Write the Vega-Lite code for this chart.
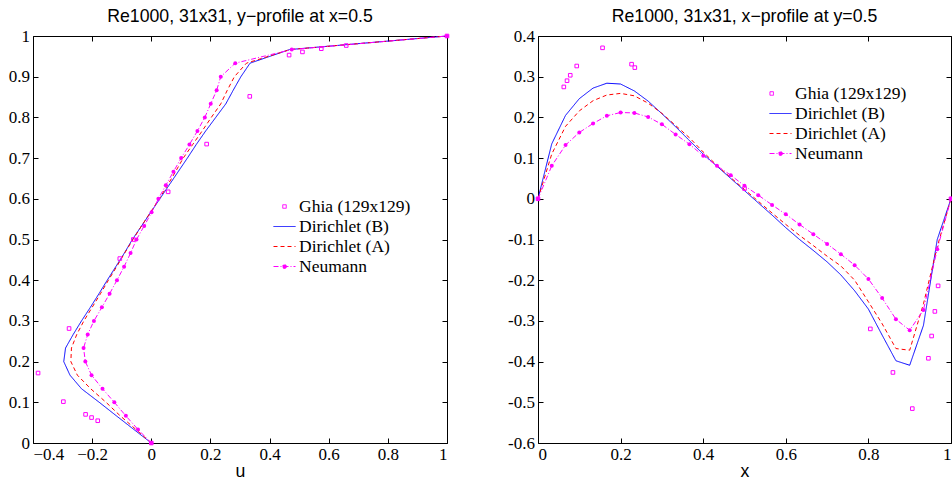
{
  "$schema": "https://vega.github.io/schema/vega-lite/v6.json",
  "background": "white",
  "padding": {"left": 7, "top": 7, "right": 0, "bottom": 0},
  "autosize": {"type": "pad"},
  "spacing": 91,
  "bounds": "flush",
  "config": {
    "view": {"stroke": "black", "strokeWidth": 1},
    "axis": {"domain": false, "grid": false, "tickColor": "black", "tickSize": -5, "tickWidth": 1, "labelPadding": 8.5, "labelFont": "Liberation Serif", "labelFontSize": 17, "labelColor": "black", "titleFont": "Liberation Sans", "titleFontSize": 17.7, "titleFontWeight": "normal", "titleColor": "black", "titlePadding": 0},
    "title": {"font": "Liberation Sans", "fontSize": 17.7, "fontWeight": "normal", "color": "black", "offset": 1}
  },
  "datasets": {
    "left": [
      {"s":"Dirichlet (B)","y":0,"u":0},{"s":"Dirichlet (B)","y":0.0333,"u":-0.059},{"s":"Dirichlet (B)","y":0.0667,"u":-0.118},{"s":"Dirichlet (B)","y":0.1,"u":-0.176},{"s":"Dirichlet (B)","y":0.1333,"u":-0.236},{"s":"Dirichlet (B)","y":0.1667,"u":-0.275},{"s":"Dirichlet (B)","y":0.2,"u":-0.296},{"s":"Dirichlet (B)","y":0.2333,"u":-0.29},{"s":"Dirichlet (B)","y":0.2667,"u":-0.264},{"s":"Dirichlet (B)","y":0.3,"u":-0.236},{"s":"Dirichlet (B)","y":0.3333,"u":-0.206},{"s":"Dirichlet (B)","y":0.3667,"u":-0.177},{"s":"Dirichlet (B)","y":0.4,"u":-0.149},{"s":"Dirichlet (B)","y":0.4333,"u":-0.12},{"s":"Dirichlet (B)","y":0.4667,"u":-0.091},{"s":"Dirichlet (B)","y":0.5,"u":-0.064},{"s":"Dirichlet (B)","y":0.5333,"u":-0.033},{"s":"Dirichlet (B)","y":0.5667,"u":-0.002},{"s":"Dirichlet (B)","y":0.6,"u":0.029},{"s":"Dirichlet (B)","y":0.6333,"u":0.06},{"s":"Dirichlet (B)","y":0.6667,"u":0.091},{"s":"Dirichlet (B)","y":0.7,"u":0.122},{"s":"Dirichlet (B)","y":0.7333,"u":0.152},{"s":"Dirichlet (B)","y":0.7667,"u":0.184},{"s":"Dirichlet (B)","y":0.8,"u":0.218},{"s":"Dirichlet (B)","y":0.8333,"u":0.252},{"s":"Dirichlet (B)","y":0.8667,"u":0.277},{"s":"Dirichlet (B)","y":0.9,"u":0.303},{"s":"Dirichlet (B)","y":0.9333,"u":0.334},{"s":"Dirichlet (B)","y":0.9667,"u":0.468},{"s":"Dirichlet (B)","y":1,"u":1},
      {"s":"Dirichlet (A)","y":0,"u":0},{"s":"Dirichlet (A)","y":0.0333,"u":-0.052},{"s":"Dirichlet (A)","y":0.0667,"u":-0.105},{"s":"Dirichlet (A)","y":0.1,"u":-0.153},{"s":"Dirichlet (A)","y":0.1333,"u":-0.205},{"s":"Dirichlet (A)","y":0.1667,"u":-0.25},{"s":"Dirichlet (A)","y":0.2,"u":-0.272},{"s":"Dirichlet (A)","y":0.2333,"u":-0.27},{"s":"Dirichlet (A)","y":0.2667,"u":-0.252},{"s":"Dirichlet (A)","y":0.3,"u":-0.228},{"s":"Dirichlet (A)","y":0.3333,"u":-0.2},{"s":"Dirichlet (A)","y":0.3667,"u":-0.172},{"s":"Dirichlet (A)","y":0.4,"u":-0.145},{"s":"Dirichlet (A)","y":0.4333,"u":-0.117},{"s":"Dirichlet (A)","y":0.4667,"u":-0.09},{"s":"Dirichlet (A)","y":0.5,"u":-0.062},{"s":"Dirichlet (A)","y":0.5333,"u":-0.033},{"s":"Dirichlet (A)","y":0.5667,"u":-0.003},{"s":"Dirichlet (A)","y":0.6,"u":0.027},{"s":"Dirichlet (A)","y":0.6333,"u":0.055},{"s":"Dirichlet (A)","y":0.6667,"u":0.082},{"s":"Dirichlet (A)","y":0.7,"u":0.108},{"s":"Dirichlet (A)","y":0.7333,"u":0.14},{"s":"Dirichlet (A)","y":0.7667,"u":0.172},{"s":"Dirichlet (A)","y":0.8,"u":0.203},{"s":"Dirichlet (A)","y":0.8333,"u":0.235},{"s":"Dirichlet (A)","y":0.8667,"u":0.257},{"s":"Dirichlet (A)","y":0.9,"u":0.281},{"s":"Dirichlet (A)","y":0.9333,"u":0.322},{"s":"Dirichlet (A)","y":0.9667,"u":0.47},{"s":"Dirichlet (A)","y":1,"u":1},
      {"s":"Neumann","y":0,"u":0},{"s":"Neumann","y":0.0333,"u":-0.045},{"s":"Neumann","y":0.0667,"u":-0.086},{"s":"Neumann","y":0.1,"u":-0.125},{"s":"Neumann","y":0.1333,"u":-0.165},{"s":"Neumann","y":0.1667,"u":-0.202},{"s":"Neumann","y":0.2,"u":-0.223},{"s":"Neumann","y":0.2333,"u":-0.229},{"s":"Neumann","y":0.2667,"u":-0.215},{"s":"Neumann","y":0.3,"u":-0.194},{"s":"Neumann","y":0.3333,"u":-0.167},{"s":"Neumann","y":0.3667,"u":-0.141},{"s":"Neumann","y":0.4,"u":-0.116},{"s":"Neumann","y":0.4333,"u":-0.092},{"s":"Neumann","y":0.4667,"u":-0.07},{"s":"Neumann","y":0.5,"u":-0.05},{"s":"Neumann","y":0.5333,"u":-0.024},{"s":"Neumann","y":0.5667,"u":0.001},{"s":"Neumann","y":0.6,"u":0.024},{"s":"Neumann","y":0.6333,"u":0.049},{"s":"Neumann","y":0.6667,"u":0.075},{"s":"Neumann","y":0.7,"u":0.101},{"s":"Neumann","y":0.7333,"u":0.129},{"s":"Neumann","y":0.7667,"u":0.156},{"s":"Neumann","y":0.8,"u":0.181},{"s":"Neumann","y":0.8333,"u":0.201},{"s":"Neumann","y":0.8667,"u":0.221},{"s":"Neumann","y":0.9,"u":0.235},{"s":"Neumann","y":0.9333,"u":0.284},{"s":"Neumann","y":0.9667,"u":0.475},{"s":"Neumann","y":1,"u":1},
      {"s":"Ghia (129x129)","y":1,"u":1},{"s":"Ghia (129x129)","y":0.9766,"u":0.65928},{"s":"Ghia (129x129)","y":0.9688,"u":0.57492},{"s":"Ghia (129x129)","y":0.9609,"u":0.51117},{"s":"Ghia (129x129)","y":0.9531,"u":0.46604},{"s":"Ghia (129x129)","y":0.8516,"u":0.33304},{"s":"Ghia (129x129)","y":0.7344,"u":0.18719},{"s":"Ghia (129x129)","y":0.6172,"u":0.05702},{"s":"Ghia (129x129)","y":0.5,"u":-0.0608},{"s":"Ghia (129x129)","y":0.4531,"u":-0.10648},{"s":"Ghia (129x129)","y":0.2813,"u":-0.27805},{"s":"Ghia (129x129)","y":0.1719,"u":-0.38289},{"s":"Ghia (129x129)","y":0.1016,"u":-0.2973},{"s":"Ghia (129x129)","y":0.0703,"u":-0.2222},{"s":"Ghia (129x129)","y":0.0625,"u":-0.20196},{"s":"Ghia (129x129)","y":0.0547,"u":-0.18109},{"s":"Ghia (129x129)","y":0,"u":0}
    ],
    "right": [
      {"s":"Dirichlet (B)","x":0,"v":0},{"s":"Dirichlet (B)","x":0.0333,"v":0.135},{"s":"Dirichlet (B)","x":0.0667,"v":0.205},{"s":"Dirichlet (B)","x":0.1,"v":0.246},{"s":"Dirichlet (B)","x":0.1333,"v":0.272},{"s":"Dirichlet (B)","x":0.1667,"v":0.284},{"s":"Dirichlet (B)","x":0.2,"v":0.282},{"s":"Dirichlet (B)","x":0.2333,"v":0.265},{"s":"Dirichlet (B)","x":0.2667,"v":0.24},{"s":"Dirichlet (B)","x":0.3,"v":0.209},{"s":"Dirichlet (B)","x":0.3333,"v":0.177},{"s":"Dirichlet (B)","x":0.3667,"v":0.143},{"s":"Dirichlet (B)","x":0.4,"v":0.11},{"s":"Dirichlet (B)","x":0.4333,"v":0.08},{"s":"Dirichlet (B)","x":0.4667,"v":0.05},{"s":"Dirichlet (B)","x":0.5,"v":0.02},{"s":"Dirichlet (B)","x":0.5333,"v":-0.01},{"s":"Dirichlet (B)","x":0.5667,"v":-0.04},{"s":"Dirichlet (B)","x":0.6,"v":-0.071},{"s":"Dirichlet (B)","x":0.6333,"v":-0.1},{"s":"Dirichlet (B)","x":0.6667,"v":-0.127},{"s":"Dirichlet (B)","x":0.7,"v":-0.155},{"s":"Dirichlet (B)","x":0.7333,"v":-0.187},{"s":"Dirichlet (B)","x":0.7667,"v":-0.226},{"s":"Dirichlet (B)","x":0.8,"v":-0.271},{"s":"Dirichlet (B)","x":0.8333,"v":-0.335},{"s":"Dirichlet (B)","x":0.8667,"v":-0.398},{"s":"Dirichlet (B)","x":0.9,"v":-0.409},{"s":"Dirichlet (B)","x":0.9333,"v":-0.311},{"s":"Dirichlet (B)","x":0.9667,"v":-0.1},{"s":"Dirichlet (B)","x":1,"v":0},
      {"s":"Dirichlet (A)","x":0,"v":0},{"s":"Dirichlet (A)","x":0.0333,"v":0.11},{"s":"Dirichlet (A)","x":0.0667,"v":0.178},{"s":"Dirichlet (A)","x":0.1,"v":0.216},{"s":"Dirichlet (A)","x":0.1333,"v":0.241},{"s":"Dirichlet (A)","x":0.1667,"v":0.255},{"s":"Dirichlet (A)","x":0.2,"v":0.259},{"s":"Dirichlet (A)","x":0.2333,"v":0.253},{"s":"Dirichlet (A)","x":0.2667,"v":0.235},{"s":"Dirichlet (A)","x":0.3,"v":0.21},{"s":"Dirichlet (A)","x":0.3333,"v":0.18},{"s":"Dirichlet (A)","x":0.3667,"v":0.15},{"s":"Dirichlet (A)","x":0.4,"v":0.115},{"s":"Dirichlet (A)","x":0.4333,"v":0.082},{"s":"Dirichlet (A)","x":0.4667,"v":0.052},{"s":"Dirichlet (A)","x":0.5,"v":0.023},{"s":"Dirichlet (A)","x":0.5333,"v":-0.006},{"s":"Dirichlet (A)","x":0.5667,"v":-0.035},{"s":"Dirichlet (A)","x":0.6,"v":-0.063},{"s":"Dirichlet (A)","x":0.6333,"v":-0.09},{"s":"Dirichlet (A)","x":0.6667,"v":-0.115},{"s":"Dirichlet (A)","x":0.7,"v":-0.141},{"s":"Dirichlet (A)","x":0.7333,"v":-0.165},{"s":"Dirichlet (A)","x":0.7667,"v":-0.2},{"s":"Dirichlet (A)","x":0.8,"v":-0.253},{"s":"Dirichlet (A)","x":0.8333,"v":-0.307},{"s":"Dirichlet (A)","x":0.8667,"v":-0.368},{"s":"Dirichlet (A)","x":0.9,"v":-0.372},{"s":"Dirichlet (A)","x":0.9333,"v":-0.258},{"s":"Dirichlet (A)","x":0.9667,"v":-0.118},{"s":"Dirichlet (A)","x":1,"v":0},
      {"s":"Neumann","x":0,"v":0},{"s":"Neumann","x":0.0333,"v":0.081},{"s":"Neumann","x":0.0667,"v":0.132},{"s":"Neumann","x":0.1,"v":0.163},{"s":"Neumann","x":0.1333,"v":0.185},{"s":"Neumann","x":0.1667,"v":0.204},{"s":"Neumann","x":0.2,"v":0.212},{"s":"Neumann","x":0.2333,"v":0.211},{"s":"Neumann","x":0.2667,"v":0.201},{"s":"Neumann","x":0.3,"v":0.183},{"s":"Neumann","x":0.3333,"v":0.158},{"s":"Neumann","x":0.3667,"v":0.134},{"s":"Neumann","x":0.4,"v":0.106},{"s":"Neumann","x":0.4333,"v":0.081},{"s":"Neumann","x":0.4667,"v":0.058},{"s":"Neumann","x":0.5,"v":0.032},{"s":"Neumann","x":0.5333,"v":0.009},{"s":"Neumann","x":0.5667,"v":-0.015},{"s":"Neumann","x":0.6,"v":-0.038},{"s":"Neumann","x":0.6333,"v":-0.063},{"s":"Neumann","x":0.6667,"v":-0.087},{"s":"Neumann","x":0.7,"v":-0.111},{"s":"Neumann","x":0.7333,"v":-0.136},{"s":"Neumann","x":0.7667,"v":-0.163},{"s":"Neumann","x":0.8,"v":-0.197},{"s":"Neumann","x":0.8333,"v":-0.244},{"s":"Neumann","x":0.8667,"v":-0.296},{"s":"Neumann","x":0.9,"v":-0.323},{"s":"Neumann","x":0.9333,"v":-0.273},{"s":"Neumann","x":0.9667,"v":-0.124},{"s":"Neumann","x":1,"v":0},
      {"s":"Ghia (129x129)","x":1,"v":0},{"s":"Ghia (129x129)","x":0.9688,"v":-0.21388},{"s":"Ghia (129x129)","x":0.9609,"v":-0.27669},{"s":"Ghia (129x129)","x":0.9531,"v":-0.33714},{"s":"Ghia (129x129)","x":0.9453,"v":-0.39188},{"s":"Ghia (129x129)","x":0.9063,"v":-0.5155},{"s":"Ghia (129x129)","x":0.8594,"v":-0.42665},{"s":"Ghia (129x129)","x":0.8047,"v":-0.31966},{"s":"Ghia (129x129)","x":0.5,"v":0.02526},{"s":"Ghia (129x129)","x":0.2344,"v":0.32235},{"s":"Ghia (129x129)","x":0.2266,"v":0.33075},{"s":"Ghia (129x129)","x":0.1563,"v":0.37095},{"s":"Ghia (129x129)","x":0.0938,"v":0.32627},{"s":"Ghia (129x129)","x":0.0781,"v":0.30353},{"s":"Ghia (129x129)","x":0.0703,"v":0.29012},{"s":"Ghia (129x129)","x":0.0625,"v":0.27485},{"s":"Ghia (129x129)","x":0,"v":0}
    ]
  },
  "resolve": {"scale": {"color": "independent"}, "legend": {"color": "independent"}},
  "hconcat": [
    {
      "width": 414, "height": 407,
      "title": "Re1000, 31x31, y−profile at x=0.5",
      "data": {"name": "left"},
      "resolve": {"axis": {"x": "independent", "y": "independent"}},
      "layer": [
        {
          "transform": [{"filter": "datum.s != 'Ghia (129x129)'"}],
          "mark": {"type": "line", "strokeWidth": 1},
          "encoding": {
            "x": {"field": "u", "type": "quantitative", "scale": {"domain": [-0.4, 1], "nice": false, "zero": false}, "axis": {"orient": "bottom", "title": "u", "values": [-0.4, -0.2, 0, 0.2, 0.4, 0.6, 0.8, 1], "format": ".1~f"}},
            "y": {"field": "y", "type": "quantitative", "scale": {"domain": [0, 1], "nice": false, "zero": false}, "axis": {"orient": "left", "title": null, "values": [0, 0.1, 0.2, 0.3, 0.4, 0.5, 0.6, 0.7, 0.8, 0.9, 1], "format": ".1~f"}},
            "order": {"field": "y", "type": "quantitative"},
            "color": {"field": "s", "type": "nominal", "scale": {"domain": ["Ghia (129x129)", "Dirichlet (B)", "Dirichlet (A)", "Neumann"], "range": ["#ff00ff", "#0000ff", "#ff0000", "#ff00ff"]},
              "legend": {"orient": "none", "legendX": 240, "legendY": 159, "title": null, "padding": 0, "labelFont": "Liberation Serif", "labelFontSize": 17.5, "labelColor": "black", "labelOffset": 3, "symbolSize": 484, "symbolStrokeWidth": 1, "rowPadding": 0,
                "encode": {"symbols": {"update": {
                  "shape": {"signal": "datum.value == 'Ghia (129x129)' ? 'M-0.16,-0.16H0.16V0.16H-0.16Z' : datum.value == 'Neumann' ? 'M-1,0H1M0.18,0A0.18,0.18 0 1 1 -0.18,0A0.18,0.18 0 1 1 0.18,0Z' : 'M-1,0H1'"},
                  "stroke": {"signal": "datum.value == 'Dirichlet (B)' ? '#0000ff' : datum.value == 'Dirichlet (A)' ? '#ff0000' : '#ff00ff'"},
                  "fill": {"signal": "datum.value == 'Neumann' ? '#ff00ff' : 'transparent'"},
                  "strokeDash": {"signal": "datum.value == 'Dirichlet (A)' ? [4,3] : datum.value == 'Neumann' ? [5,2,1,2] : [1,0]"}
                }}}}},
            "strokeDash": {"field": "s", "type": "nominal", "scale": {"domain": ["Ghia (129x129)", "Dirichlet (B)", "Dirichlet (A)", "Neumann"], "range": [[1, 0], [1, 0], [4, 3], [5, 2, 1, 2]]}, "legend": null}
          }
        },
        {
          "transform": [{"filter": "datum.s == 'Neumann'"}],
          "mark": {"type": "point", "shape": "circle", "filled": true, "color": "#ff00ff", "size": 16, "opacity": 1},
          "encoding": {
            "x": {"field": "u", "type": "quantitative", "scale": {"domain": [-0.4, 1], "nice": false, "zero": false}, "axis": null},
            "y": {"field": "y", "type": "quantitative", "scale": {"domain": [0, 1], "nice": false, "zero": false}, "axis": null}
          }
        },
        {
          "transform": [{"filter": "datum.s == 'Ghia (129x129)'"}],
          "mark": {"type": "point", "shape": "square", "filled": false, "color": "#ff00ff", "size": 13, "strokeWidth": 1, "opacity": 1},
          "encoding": {
            "x": {"field": "u", "type": "quantitative", "scale": {"domain": [-0.4, 1], "nice": false, "zero": false}, "axis": {"orient": "top", "title": null, "labels": false, "values": [-0.4, -0.2, 0, 0.2, 0.4, 0.6, 0.8, 1]}},
            "y": {"field": "y", "type": "quantitative", "scale": {"domain": [0, 1], "nice": false, "zero": false}, "axis": {"orient": "right", "title": null, "labels": false, "values": [0, 0.1, 0.2, 0.3, 0.4, 0.5, 0.6, 0.7, 0.8, 0.9, 1]}}
          }
        }
      ]
    },
    {
      "width": 413, "height": 407,
      "title": "Re1000, 31x31, x−profile at y=0.5",
      "data": {"name": "right"},
      "resolve": {"axis": {"x": "independent", "y": "independent"}},
      "layer": [
        {
          "transform": [{"filter": "datum.s != 'Ghia (129x129)'"}],
          "mark": {"type": "line", "strokeWidth": 1},
          "encoding": {
            "x": {"field": "x", "type": "quantitative", "scale": {"domain": [0, 1], "nice": false, "zero": false}, "axis": {"orient": "bottom", "title": "x", "values": [0, 0.2, 0.4, 0.6, 0.8, 1], "format": ".1~f"}},
            "y": {"field": "v", "type": "quantitative", "scale": {"domain": [-0.6, 0.4], "nice": false, "zero": false}, "axis": {"orient": "left", "title": null, "values": [-0.6, -0.5, -0.4, -0.3, -0.2, -0.1, 0, 0.1, 0.2, 0.3, 0.4], "labelExpr": "datum.value < 0 ? '-' + format(-datum.value, '.1~f') : format(datum.value, '.1~f')"}},
            "order": {"field": "x", "type": "quantitative"},
            "color": {"field": "s", "type": "nominal", "scale": {"domain": ["Ghia (129x129)", "Dirichlet (B)", "Dirichlet (A)", "Neumann"], "range": ["#ff00ff", "#0000ff", "#ff0000", "#ff00ff"]},
              "legend": {"orient": "none", "legendX": 231, "legendY": 46, "title": null, "padding": 0, "labelFont": "Liberation Serif", "labelFontSize": 17.5, "labelColor": "black", "labelOffset": 3, "symbolSize": 484, "symbolStrokeWidth": 1, "rowPadding": 0,
                "encode": {"symbols": {"update": {
                  "shape": {"signal": "datum.value == 'Ghia (129x129)' ? 'M-0.96,-0.16H-0.64V0.16H-0.96Z' : datum.value == 'Neumann' ? 'M-1,0H1M0.18,0A0.18,0.18 0 1 1 -0.18,0A0.18,0.18 0 1 1 0.18,0Z' : 'M-1,0H1'"},
                  "stroke": {"signal": "datum.value == 'Dirichlet (B)' ? '#0000ff' : datum.value == 'Dirichlet (A)' ? '#ff0000' : '#ff00ff'"},
                  "fill": {"signal": "datum.value == 'Neumann' ? '#ff00ff' : 'transparent'"},
                  "strokeDash": {"signal": "datum.value == 'Dirichlet (A)' ? [4,3] : datum.value == 'Neumann' ? [5,2,1,2] : [1,0]"}
                }}}}},
            "strokeDash": {"field": "s", "type": "nominal", "scale": {"domain": ["Ghia (129x129)", "Dirichlet (B)", "Dirichlet (A)", "Neumann"], "range": [[1, 0], [1, 0], [4, 3], [5, 2, 1, 2]]}, "legend": null}
          }
        },
        {
          "transform": [{"filter": "datum.s == 'Neumann'"}],
          "mark": {"type": "point", "shape": "circle", "filled": true, "color": "#ff00ff", "size": 16, "opacity": 1},
          "encoding": {
            "x": {"field": "x", "type": "quantitative", "scale": {"domain": [0, 1], "nice": false, "zero": false}, "axis": null},
            "y": {"field": "v", "type": "quantitative", "scale": {"domain": [-0.6, 0.4], "nice": false, "zero": false}, "axis": null}
          }
        },
        {
          "transform": [{"filter": "datum.s == 'Ghia (129x129)'"}],
          "mark": {"type": "point", "shape": "square", "filled": false, "color": "#ff00ff", "size": 13, "strokeWidth": 1, "opacity": 1},
          "encoding": {
            "x": {"field": "x", "type": "quantitative", "scale": {"domain": [0, 1], "nice": false, "zero": false}, "axis": {"orient": "top", "title": null, "labels": false, "values": [0, 0.2, 0.4, 0.6, 0.8, 1]}},
            "y": {"field": "v", "type": "quantitative", "scale": {"domain": [-0.6, 0.4], "nice": false, "zero": false}, "axis": {"orient": "right", "title": null, "labels": false, "values": [-0.6, -0.5, -0.4, -0.3, -0.2, -0.1, 0, 0.1, 0.2, 0.3, 0.4]}}
          }
        }
      ]
    }
  ]
}
